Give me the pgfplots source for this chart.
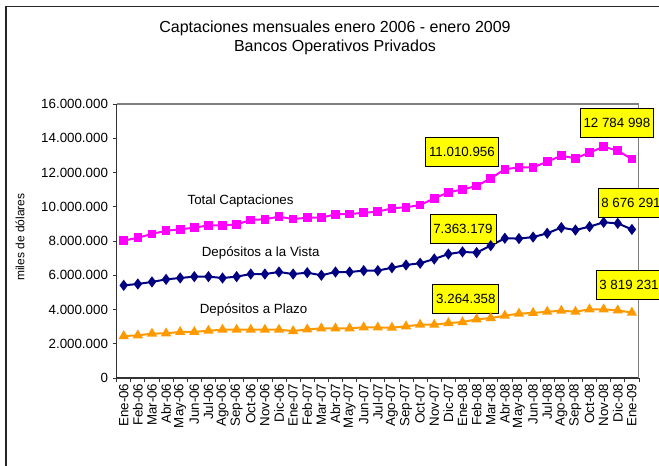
\documentclass[border=0pt]{standalone}
\usepackage{pgfplots}
\pgfplotsset{compat=1.18}
\usepackage{pgfplotstable}
\usepackage{fontspec}
\setmainfont{Liberation Sans}
\definecolor{cpink}{RGB}{255,0,255}
\definecolor{cnavy}{RGB}{0,0,128}
\definecolor{corange}{RGB}{255,153,0}
\definecolor{cyel}{RGB}{255,255,0}
\pgfplotstableread{
x total vista plazo
0 8020000 5410000 2450000
1 8190000 5490000 2490000
2 8410000 5610000 2590000
3 8600000 5760000 2610000
4 8680000 5840000 2690000
5 8780000 5920000 2690000
6 8910000 5920000 2760000
7 8910000 5840000 2820000
8 8970000 5920000 2820000
9 9230000 6070000 2820000
10 9270000 6070000 2820000
11 9420000 6190000 2820000
12 9280000 6070000 2740000
13 9360000 6150000 2840000
14 9360000 6000000 2900000
15 9560000 6190000 2900000
16 9570000 6190000 2900000
17 9650000 6270000 2960000
18 9710000 6270000 2950000
19 9910000 6440000 2940000
20 9970000 6600000 3020000
21 10100000 6700000 3110000
22 10490000 6950000 3110000
23 10840000 7240000 3210000
24 11010956 7363179 3264358
25 11210000 7320000 3430000
26 11660000 7730000 3500000
27 12190000 8160000 3640000
28 12300000 8140000 3760000
29 12300000 8230000 3800000
30 12630000 8450000 3870000
31 12980000 8780000 3930000
32 12830000 8640000 3870000
33 13160000 8840000 4010000
34 13510000 9090000 4010000
35 13270000 9030000 3950000
36 12784998 8676291 3819231
}\datatable
\begin{document}
\begin{tikzpicture}
\useasboundingbox (0,0) rectangle (494.25pt,348.75pt);
\draw[line width=1pt,black!85] (4.5pt,-5pt) -- (4.5pt,343.9pt) -- (500pt,343.9pt);
\node[align=center,font=\fontsize{12}{14.25}\selectfont] at (251.25pt,320.6pt)
  {Captaciones mensuales enero 2006 - enero 2009\\Bancos Operativos Privados};
\node[rotate=90,font=\fontsize{9}{11}\selectfont] at (15pt,171pt) {miles de dólares};
\begin{axis}[
  at={(87.5pt,65.25pt)}, anchor=south west,
  scale only axis, width=391.7pt, height=205.5pt,
  xmin=-0.5, xmax=36.5, ymin=0, ymax=16000000,
  axis x line*=bottom, axis y line*=left,
  axis line style={black!80, line width=0.8pt},
  tick align=outside,
  ytick={0,2000000,...,16000000},
  scaled y ticks=false,
  yticklabel style={/pgf/number format/fixed, /pgf/number format/precision=0, /pgf/number format/1000 sep={.}, /pgf/number format/assume math mode=true, font=\fontsize{10}{12}\selectfont},
  xtick={0,...,36},
  xticklabels={Ene-06,Feb-06,Mar-06,Abr-06,May-06,Jun-06,Jul-06,Ago-06,Sep-06,Oct-06,Nov-06,Dic-06,Ene-07,Feb-07,Mar-07,Abr-07,May-07,Jun-07,Jul-07,Ago-07,Sep-07,Oct-07,Nov-07,Dic-07,Ene-08,Feb-08,Mar-08,Abr-08,May-08,Jun-08,Jul-08,Ago-08,Sep-08,Oct-08,Nov-08,Dic-08,Ene-09},
  xticklabel style={rotate=90, anchor=east, font=\fontsize{10}{12}\selectfont, inner sep=1pt},
  major x tick style={draw=none},
  minor xtick={-0.5,0.5,...,36.5},
  minor tick length=3pt, major tick length=3pt,
  tick style={black!80, line width=0.6pt},
  clip=false,
]
\draw[gray, line width=0.8pt] (rel axis cs:0,1) -- (rel axis cs:1,1) -- (rel axis cs:1,0);
\addplot[cpink, line width=1.5pt, mark=square*, mark size=2.5pt] table[x=x,y=total] {\datatable};
\addplot[cnavy, line width=1.5pt, mark=diamond*, mark size=3pt] table[x=x,y=vista] {\datatable};
\addplot[corange, line width=1.5pt, mark=triangle*, mark size=3pt] table[x=x,y=plazo] {\datatable};
\node[font=\fontsize{10}{12}\selectfont] at (axis cs:8.28,10350000) {Total Captaciones};
\node[font=\fontsize{10}{12}\selectfont] at (axis cs:9.70,7300000) {Depósitos a la Vista};
\node[font=\fontsize{10}{12}\selectfont] at (axis cs:9.20,3970000) {Depósitos a Plazo};
\tikzset{lbl/.style={draw=black, line width=0.6pt, fill=cyel, font=\fontsize{10}{12}\selectfont, inner xsep=2.5pt, minimum height=21.75pt}}
\node[lbl] at (axis cs:34.94,14920000) {12 784 998};
\node[lbl] at (axis cs:23.96,13230000) {11.010.956};
\node[lbl, anchor=west] at (axis cs:33.57,10250000) {8 676 291};
\node[lbl] at (axis cs:24.03,8730000) {7.363.179};
\node[lbl] at (axis cs:24.24,4640000) {3.264.358};
\node[lbl, anchor=west] at (axis cs:33.43,5460000) {3 819 231};
\end{axis}
\end{tikzpicture}
\end{document}
